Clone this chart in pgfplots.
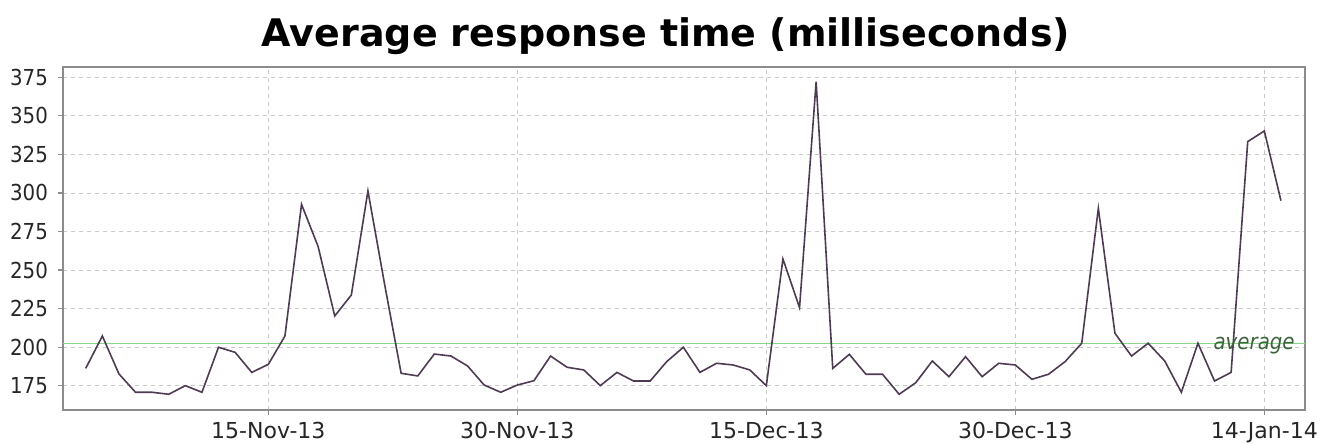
\documentclass[border=0pt]{standalone}
\usepackage{pgfplots}
\pgfplotsset{compat=1.18}
\usepackage{fontspec}
\setmainfont{DejaVu Sans Condensed}
\newfontfamily\widefont{DejaVu Sans}

\definecolor{lineclr}{RGB}{78,58,82}
\definecolor{avgclr}{RGB}{135,215,135}
\definecolor{avgtext}{RGB}{60,100,60}
\definecolor{gridclr}{RGB}{200,200,200}
\definecolor{frameclr}{RGB}{140,140,140}

% day 0 = 15-Nov-13
\pgfplotstableread{
d v
-11 186.2
-10 207.2
-9 182.6
-8 170.7
-7 170.7
-6 169.4
-5 175.0
-4 170.7
-3 199.9
-2 196.6
-1 183.6
0 188.8
1 207.2
2 292.6
3 265.2
4 220.2
5 233.8
6 301.3
7 241.0
8 183.0
9 181.3
10 195.5
11 194.2
12 187.8
13 175.4
14 170.7
15 175.4
16 178.2
17 194.2
18 186.9
19 185.2
20 175.0
21 183.6
22 178.0
23 178.0
24 190.6
25 199.9
26 183.6
27 189.5
28 188.4
29 185.2
30 175.0
31 257.2
32 225.6
33 372.2
34 186.2
35 195.3
36 182.4
37 182.4
38 169.4
39 176.9
40 191.0
41 180.8
42 193.8
43 180.8
44 189.5
45 188.4
46 179.1
47 182.4
48 190.6
49 202.5
50 290.0
51 209.0
52 194.2
53 202.5
54 191.0
55 170.7
56 202.5
57 178.0
58 183.6
59 333.3
60 340.2
61 295.0
}\resp

\begin{document}
\begin{tikzpicture}
\path[use as bounding box] (-31.5pt,-17pt) rectangle (634.5pt,205pt);
\begin{axis}[
    at={(0,0)}, anchor=south west,
    scale only axis,
    width=621pt, height=171.5pt,
    xmin=-12.37, xmax=62.45,
    ymin=159.2, ymax=381.7,
    xtick={0,15,30,45,60},
    xticklabels={15-Nov-13,30-Nov-13,15-Dec-13,30-Dec-13,14-Jan-14},
    ytick={175,200,...,375},
    /pgf/number format/assume math mode=true,
    tick label style={font=\fontsize{11}{13}\selectfont, color=black!85},
    xticklabel style={font=\widefont\fontsize{11}{13}\selectfont},
    yticklabel style={xshift=-1.5pt},
    tick align=outside,
    major tick length=2.5pt,
    tick style={frameclr, line width=0.6pt},
    xtick pos=bottom, ytick pos=left,
    axis line style={frameclr, line width=0.8pt},
    grid=major,
    major grid style={gridclr, dash pattern=on 2pt off 2pt, line width=0.4pt},
    title={Average response time (milliseconds)},
    title style={font=\widefont\fontsize{19}{22}\selectfont\bfseries, anchor=base,
        at={(axis description cs:0.4855,1)}, yshift=4pt},
    clip=false,
]
\addplot[avgclr, line width=0.6pt] coordinates {(-12.37,202.5) (62.45,202.5)};
\addplot[lineclr, line width=0.8pt] table[x=d, y=v] {\resp};
\node[anchor=east, font=\itshape\fontsize{11}{13}\selectfont, text=avgtext, inner sep=0pt]
    at (axis cs:61.85,201) {average};
\end{axis}
\end{tikzpicture}
\end{document}
